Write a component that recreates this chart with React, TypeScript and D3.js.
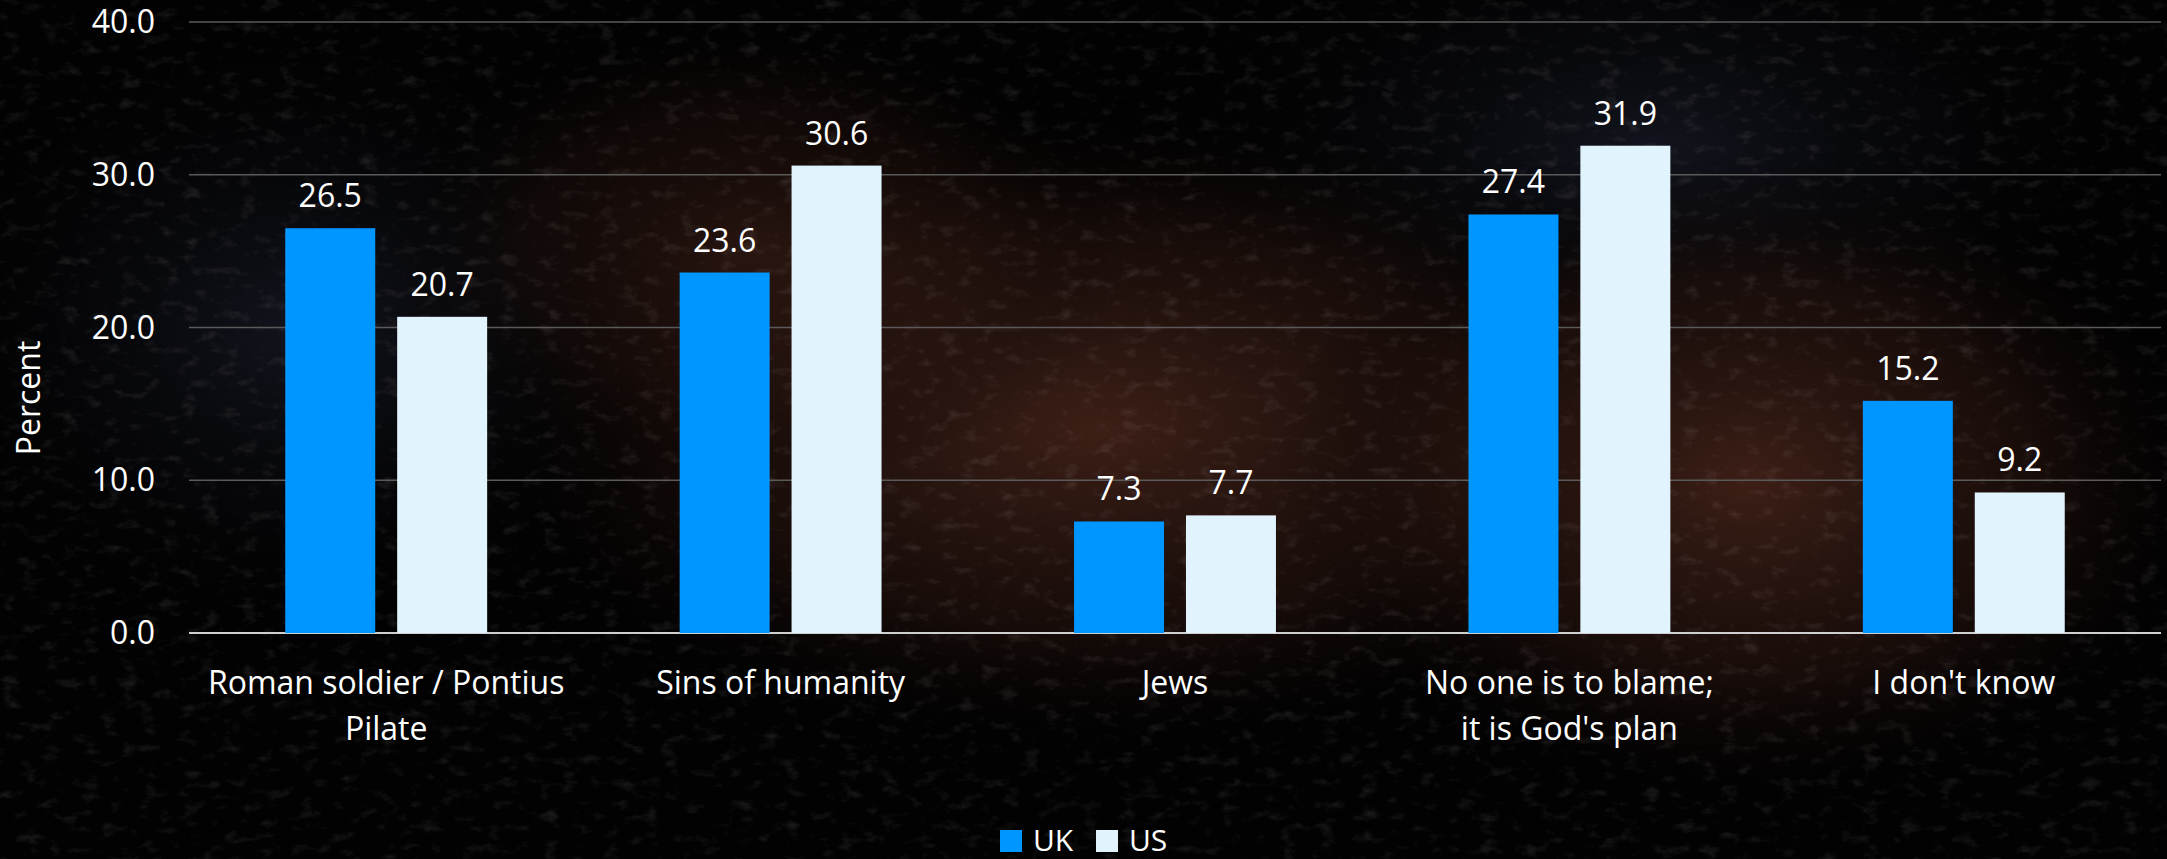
import React from "react";
import * as d3 from "d3";

const categories: string[][] = [
  ["Roman soldier / Pontius", "Pilate"],
  ["Sins of humanity"],
  ["Jews"],
  ["No one is to blame;", "it is God's plan"],
  ["I don't know"],
];
const seriesNames = ["UK", "US"];
const ukValues = [26.5, 23.6, 7.3, 27.4, 15.2];
const usValues = [20.7, 30.6, 7.7, 31.9, 9.2];
const yTicks = [0, 10, 20, 30, 40];
const yTitle = "Percent";

const W = 2167;
const H = 859;
const COLORS: Record<string, string> = { UK: "#0096FF", US: "#E1F4FE" };
const FONT = "'Open Sans', 'Noto Sans', sans-serif";
const FS = 32;

export default function App() {
  const left = 189;
  const right = 2161;
  const y = d3.scaleLinear().domain([0, 40]).range([633, 22]);
  const keys = categories.map((c) => c.join(" "));
  const x0 = d3.scaleBand<string>().domain(keys).range([left, right]).padding(0);
  const x1 = d3
    .scaleBand<string>()
    .domain(seriesNames)
    .range([0, x0.bandwidth()])
    .paddingInner(0.196)
    .paddingOuter(0.86);
  const values: Record<string, number[]> = { UK: ukValues, US: usValues };

  return (
    <svg
      width={W}
      height={H}
      style={{ position: "absolute", left: 0, top: 0, display: "block" }}
      fontFamily={FONT}
    >
      <defs>
        <radialGradient id="warm1" cx="0.5" cy="0.5" r="0.5">
          <stop offset="0" stopColor="#47241a" stopOpacity="0.85" />
          <stop offset="0.6" stopColor="#2c1610" stopOpacity="0.5" />
          <stop offset="1" stopColor="#000" stopOpacity="0" />
        </radialGradient>
        <radialGradient id="cool1" cx="0.5" cy="0.5" r="0.5">
          <stop offset="0" stopColor="#171a26" stopOpacity="0.8" />
          <stop offset="1" stopColor="#000" stopOpacity="0" />
        </radialGradient>
        <filter id="tex" x="0" y="0" width="100%" height="100%">
          <feTurbulence type="fractalNoise" baseFrequency="0.05 0.09" numOctaves="4" seed="7" result="n" />
          <feColorMatrix
            in="n"
            type="matrix"
            values="0 0 0 0 0.5  0 0 0 0 0.42  0 0 0 0 0.42  0 0 0 2.6 -1.45"
          />
        </filter>
      </defs>

      {/* background */}
      <rect width={W} height={H} fill="#020202" />
      <ellipse cx={300} cy={330} rx={420} ry={330} fill="url(#cool1)" />
      <ellipse cx={1650} cy={150} rx={520} ry={260} fill="url(#cool1)" />
      <ellipse cx={1100} cy={430} rx={650} ry={330} fill="url(#warm1)" />
      <ellipse cx={1750} cy={480} rx={480} ry={330} fill="url(#warm1)" />
      <ellipse cx={750} cy={250} rx={380} ry={240} fill="url(#warm1)" opacity={0.6} />
      <rect width={W} height={H} filter="url(#tex)" opacity={0.14} />

      {/* gridlines */}
      {yTicks.map((t) => (
        <line
          key={t}
          x1={left}
          x2={right}
          y1={y(t)}
          y2={y(t)}
          stroke={t === 0 ? "#cfcfcf" : "#5a5a5a"}
          strokeWidth={t === 0 ? 2 : 1.5}
        />
      ))}

      {/* y tick labels */}
      {yTicks.map((t) => (
        <text
          key={t}
          x={155}
          y={y(t)}
          dy="0.35em"
          textAnchor="end"
          fontSize={FS}
          fill="#ffffff"
        >
          {t.toFixed(1)}
        </text>
      ))}

      {/* y title */}
      <text
        transform={`translate(40,398) rotate(-90)`}
        textAnchor="middle"
        fontSize={FS}
        fill="#ffffff"
      >
        {yTitle}
      </text>

      {/* bars */}
      {keys.map((k, i) => (
        <g key={k} transform={`translate(${x0(k)},0)`}>
          {seriesNames.map((s) => {
            const v = values[s][i];
            const bx = x1(s) as number;
            return (
              <g key={s}>
                <rect
                  x={bx}
                  y={y(v)}
                  width={x1.bandwidth()}
                  height={y(0) - y(v)}
                  fill={COLORS[s]}
                />
                <text
                  x={bx + x1.bandwidth() / 2}
                  y={y(v) - 21}
                  textAnchor="middle"
                  fontSize={FS}
                  fill="#ffffff"
                >
                  {v.toFixed(1)}
                </text>
              </g>
            );
          })}
        </g>
      ))}

      {/* category labels */}
      {keys.map((k, i) => (
        <text
          key={k}
          x={(x0(k) as number) + x0.bandwidth() / 2}
          y={694}
          textAnchor="middle"
          fontSize={FS}
          fill="#ffffff"
        >
          {categories[i].map((line, j) => (
            <tspan key={j} x={(x0(k) as number) + x0.bandwidth() / 2} dy={j === 0 ? 0 : 46}>
              {line}
            </tspan>
          ))}
        </text>
      ))}

      {/* legend */}
      {seriesNames.map((s, i) => {
        const lx = 1000 + i * 96;
        return (
          <g key={s}>
            <rect x={lx} y={830} width={22} height={22} fill={COLORS[s]} />
            <text x={lx + 33} y={851} fontSize={30} fill="#ffffff">
              {s}
            </text>
          </g>
        );
      })}
    </svg>
  );
}
